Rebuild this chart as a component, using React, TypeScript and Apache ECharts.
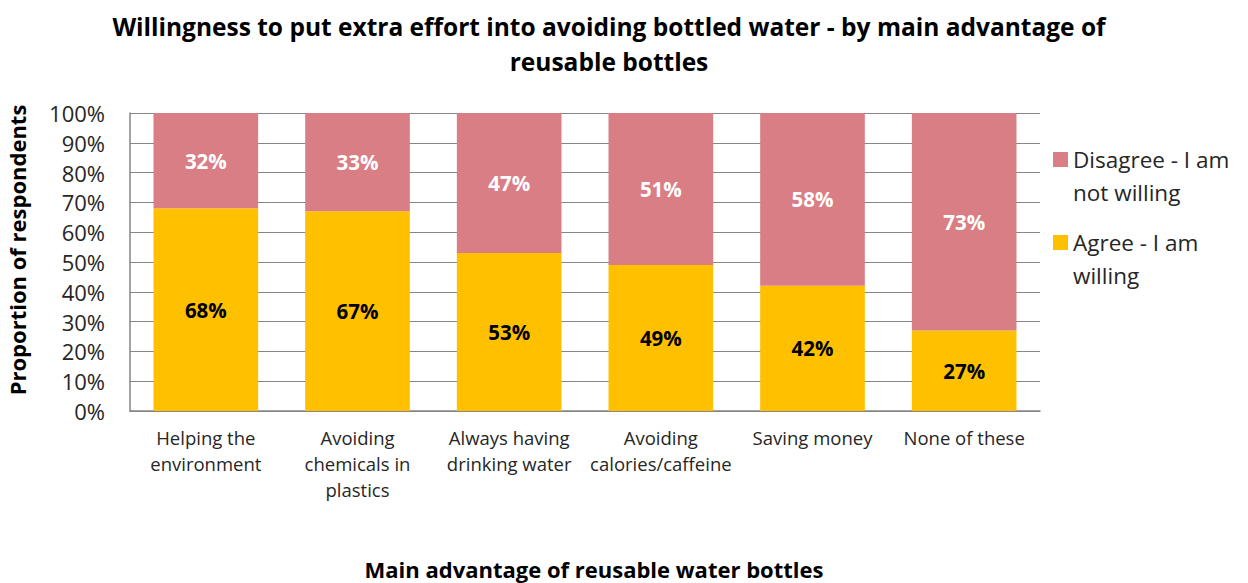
import React, { useEffect, useRef } from "react";
import * as echarts from "echarts";

const categories = [
  "Helping the\nenvironment",
  "Avoiding\nchemicals in\nplastics",
  "Always having\ndrinking water",
  "Avoiding\ncalories/caffeine",
  "Saving money",
  "None of these",
];
const agree = [68, 67, 53, 49, 42, 27];
const disagree = [32, 33, 47, 51, 58, 73];
const seriesNames = ["Agree - I am willing", "Disagree - I am not willing"];
const legendLabels: Record<string, string> = {
  "Disagree - I am not willing": "\nDisagree - I am\nnot willing",
  "Agree - I am willing": "\nAgree - I am\nwilling",
};

const FONT = "'Open Sans', 'Noto Sans', sans-serif";

export default function App() {
  const ref = useRef<HTMLDivElement>(null);
  useEffect(() => {
    const chart = echarts.init(ref.current!, undefined, { renderer: "svg" });
    chart.setOption({
      animation: false,
      textStyle: { fontFamily: FONT },
      title: {
        text: "Willingness to put extra effort into avoiding bottled water - by main advantage of\nreusable bottles",
        left: 604,
        top: 4,
        textAlign: "center",
        textStyle: {
          fontFamily: FONT,
          fontSize: 24.5,
          fontWeight: "bold",
          color: "#000",
          lineHeight: 35,
        },
      },
      legend: {
        orient: "vertical",
        left: 1048,
        top: 105,
        data: [seriesNames[1], seriesNames[0]],
        icon: "rect",
        itemWidth: 15,
        itemHeight: 15,
        itemGap: -16,
        formatter: (n: string) => legendLabels[n] || n,
        textStyle: {
          fontFamily: FONT,
          fontSize: 22.5,
          color: "#262626",
          lineHeight: 33,
        },
      },
      grid: { left: 130, right: 208, top: 113, bottom: 172, outerBoundsMode: "none", containLabel: false },
      xAxis: {
        type: "category",
        data: categories,
        name: "Main advantage of reusable water bottles",
        nameLocation: "middle",
        nameGap: 147,
        nameTextStyle: {
          fontFamily: FONT,
          fontSize: 22,
          fontWeight: "bold",
          color: "#000",
          padding: [0, 0, 0, 18],
        },
        axisLine: { lineStyle: { color: "#868686", width: 1.5 } },
        axisTick: { show: false },
        axisLabel: {
          fontFamily: FONT,
          fontSize: 18.5,
          lineHeight: 26,
          color: "#262626",
          margin: 13,
          interval: 0,
        },
      },
      yAxis: {
        type: "value",
        min: 0,
        max: 100,
        interval: 10,
        name: "Proportion of respondents",
        nameLocation: "middle",
        nameGap: 102,
        nameTextStyle: {
          fontFamily: FONT,
          fontSize: 22,
          fontWeight: "bold",
          color: "#000",
          padding: [0, 0, 0, 24],
        },
        axisLine: { show: true, lineStyle: { color: "#868686", width: 1.5 } },
        axisTick: { show: false },
        splitLine: { lineStyle: { color: "#868686", width: 1.2 } },
        axisLabel: {
          formatter: "{value}%",
          fontFamily: FONT,
          fontSize: 22,
          color: "#262626",
          margin: 25,
        },
      },
      series: [
        {
          name: seriesNames[0],
          type: "bar",
          stack: "total",
          data: agree,
          barWidth: "69%",
          itemStyle: { color: "#FFC000" },
          label: {
            show: true,
            position: "inside",
            formatter: "{c}%",
            fontFamily: FONT,
            fontSize: 20.5,
            fontWeight: "bold",
            color: "#000",
          },
        },
        {
          name: seriesNames[1],
          type: "bar",
          stack: "total",
          data: disagree,
          barWidth: "69%",
          itemStyle: { color: "#D97E84" },
          label: {
            show: true,
            position: "inside",
            formatter: "{c}%",
            fontFamily: FONT,
            fontSize: 20.5,
            fontWeight: "bold",
            color: "#fff",
          },
        },
      ],
    });
    return () => chart.dispose();
  }, []);
  return (
    <div
      ref={ref}
      style={{ position: "fixed", left: 0, top: 0, width: 1248, height: 583, background: "#fff" }}
    />
  );
}
